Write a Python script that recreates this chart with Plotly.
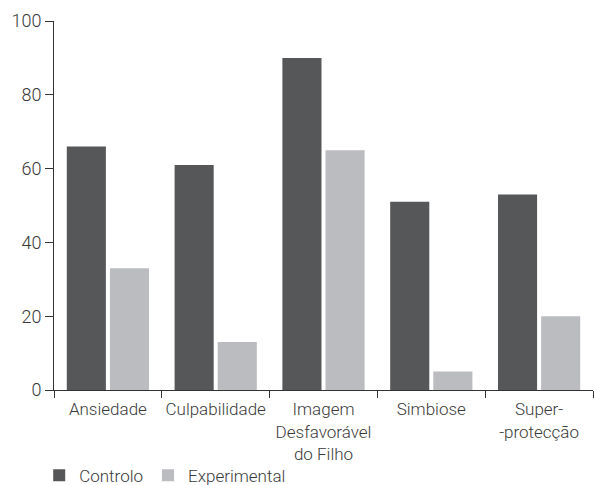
import plotly.graph_objects as go

categories = ["Ansiedade", "Culpabilidade", "Imagem<br>Desfavorável<br>do Filho",
              "Simbiose", "Super-<br>-protecção"]
controlo = [66, 61, 90, 51, 53]
experimental = [33, 13, 65, 5, 20]
y_ticks = [0, 20, 40, 60, 80, 100]

FONT = "Roboto Light, Roboto, Lato, sans-serif"
TXT = "#3a3a3a"

fig = go.Figure()
fig.add_trace(go.Bar(name="Controlo", x=categories, y=controlo,
                     marker=dict(color="#565759", line=dict(width=0))))
fig.add_trace(go.Bar(name="Experimental", x=categories, y=experimental,
                     marker=dict(color="#bbbcc0", line=dict(width=0))))

fig.update_layout(
    width=594, height=485,
    margin=dict(l=54, r=1, t=21, b=95, autoexpand=False),
    paper_bgcolor="white", plot_bgcolor="white",
    barmode="group", bargap=0.2, bargroupgap=0.093,
    font=dict(family=FONT, size=17, color=TXT),
    legend=dict(orientation="h", x=0.066, xref="container", xanchor="left",
                y=0.019, yref="container", yanchor="middle",
                font=dict(size=17, color=TXT), traceorder="normal"),
    xaxis=dict(type="category", showline=True, linecolor="#333", linewidth=1,
               ticks="outside", tickson="boundaries", ticklen=7, tickcolor="#333",
               tickangle=0, ticklabelstandoff=4, showgrid=False,
               tickfont=dict(size=17, color=TXT), automargin=False),
    yaxis=dict(range=[0, 100], tickvals=y_ticks, showline=True, linecolor="#333",
               linewidth=1, ticks="outside", ticklen=8, tickcolor="#333",
               showgrid=False, zeroline=False, tickfont=dict(size=18, color=TXT),
               automargin=False),
)

fig.write_html("out.html", config={"staticPlot": True, "displayModeBar": False})
